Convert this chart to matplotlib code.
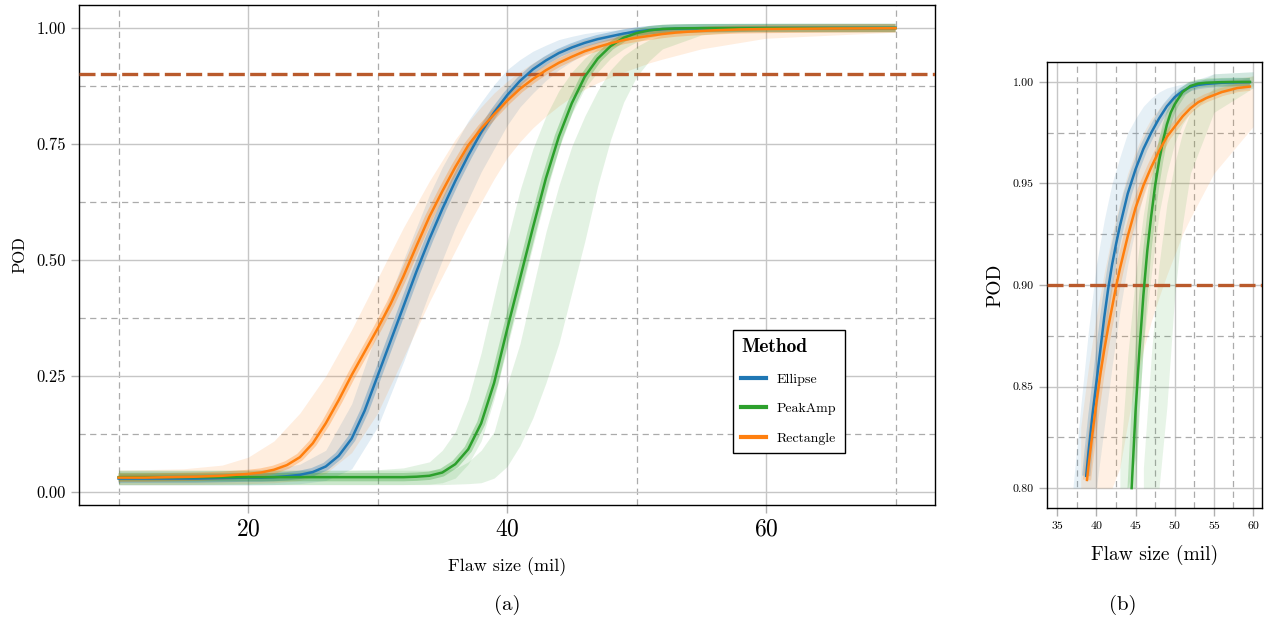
import matplotlib
matplotlib.use("Agg")
import matplotlib.pyplot as plt
from matplotlib.lines import Line2D
from matplotlib.ticker import MultipleLocator, FormatStrFormatter
import numpy as np

plt.rcParams['font.family'] = ['cmr10', 'DejaVu Serif']
plt.rcParams['axes.formatter.use_mathtext'] = True
plt.rcParams['mathtext.fontset'] = 'cm'

methods = ['Ellipse', 'PeakAmp', 'Rectangle']
colors = {'Ellipse': '#1f77b4', 'PeakAmp': '#2ca02c', 'Rectangle': '#ff7f0e'}
target_pod = 0.90

# ---- panel (a): fitted POD curves, flaw size 10..70 mil
flaw = [10, 12, 14, 16, 18, 20, 21, 22, 23, 24, 25, 26, 27, 28, 29, 30, 31, 32, 33, 34,
        35, 36, 37, 38, 39, 40, 41, 42, 43, 44, 45, 46, 47, 48, 49, 50, 51, 52, 53, 54,
        55, 56, 58, 60, 62, 65, 70]
pod_ellipse = [0.029, 0.029, 0.029, 0.029, 0.030, 0.031, 0.031, 0.032, 0.034, 0.037,
               0.043, 0.055, 0.078, 0.115, 0.175, 0.250, 0.325, 0.400, 0.475, 0.545,
               0.610, 0.670, 0.725, 0.775, 0.818, 0.855, 0.886, 0.911, 0.930, 0.946,
               0.958, 0.968, 0.976, 0.982, 0.988, 0.9925, 0.9955, 0.9975, 0.9985, 0.999,
               0.9994, 0.9996, 0.9998, 0.9999, 1.0, 1.0, 1.0]
pod_peakamp = [0.032, 0.032, 0.032, 0.032, 0.032, 0.032, 0.032, 0.032, 0.032, 0.032,
               0.032, 0.032, 0.032, 0.032, 0.032, 0.032, 0.032, 0.032, 0.033, 0.035,
               0.042, 0.060, 0.092, 0.148, 0.235, 0.350, 0.460, 0.570, 0.676, 0.766,
               0.838, 0.895, 0.934, 0.961, 0.979, 0.989, 0.995, 0.998, 0.999, 0.9995,
               0.9997, 0.9998, 0.9999, 1.0, 1.0, 1.0, 1.0]
pod_rectangle = [0.031, 0.031, 0.032, 0.033, 0.035, 0.039, 0.042, 0.048, 0.058, 0.075,
                 0.105, 0.148, 0.198, 0.252, 0.302, 0.352, 0.405, 0.465, 0.530, 0.593,
                 0.648, 0.700, 0.747, 0.783, 0.814, 0.843, 0.869, 0.890, 0.909, 0.925,
                 0.938, 0.950, 0.959, 0.967, 0.974, 0.979, 0.983, 0.987, 0.990, 0.992,
                 0.9935, 0.995, 0.997, 0.9978, 0.9983, 0.999, 0.9995]

# spread of the bootstrap curves: upper (left-most) and lower (right-most) edges
band_x = [10, 15, 18, 20, 22, 24, 26, 28, 30, 32, 34, 35, 36, 37, 38, 39, 40, 41, 42, 43,
          44, 45, 46, 47, 48, 49, 50, 51, 52, 55, 60, 70]
ell_hi = [0.045, 0.045, 0.046, 0.047, 0.050, 0.060, 0.090, 0.190, 0.350, 0.500, 0.640,
          0.700, 0.750, 0.800, 0.840, 0.878, 0.910, 0.932, 0.950, 0.963, 0.975, 0.982,
          0.988, 0.992, 0.995, 0.997, 0.998, 0.999, 1.000, 1.004, 1.005, 1.005]
ell_lo = [0.015, 0.015, 0.015, 0.015, 0.016, 0.018, 0.025, 0.050, 0.140, 0.280, 0.430,
          0.500, 0.570, 0.630, 0.690, 0.740, 0.790, 0.830, 0.860, 0.887, 0.910, 0.928,
          0.945, 0.957, 0.967, 0.975, 0.980, 0.985, 0.988, 0.994, 0.997, 0.998]
rect_hi = [0.047, 0.050, 0.058, 0.075, 0.110, 0.170, 0.250, 0.350, 0.460, 0.570, 0.670,
           0.715, 0.760, 0.797, 0.830, 0.860, 0.885, 0.906, 0.925, 0.941, 0.955, 0.966,
           0.975, 0.982, 0.987, 0.991, 0.994, 0.996, 0.997, 1.000, 1.003, 1.004]
rect_lo = [0.016, 0.016, 0.017, 0.018, 0.020, 0.025, 0.040, 0.085, 0.170, 0.290, 0.410,
           0.465, 0.520, 0.575, 0.625, 0.675, 0.720, 0.755, 0.785, 0.810, 0.832, 0.852,
           0.868, 0.882, 0.894, 0.905, 0.915, 0.925, 0.933, 0.955, 0.978, 0.991]
peak1_hi = [0.047, 0.047, 0.047, 0.047, 0.047, 0.047, 0.047, 0.047, 0.048, 0.052, 0.065,
            0.090, 0.130, 0.200, 0.300, 0.420, 0.540, 0.650, 0.740, 0.810, 0.865, 0.905,
            0.935, 0.957, 0.973, 0.983, 0.990, 0.995, 0.998, 1.004, 1.005, 1.005]
peak1_lo = [0.016, 0.016, 0.016, 0.016, 0.016, 0.016, 0.016, 0.016, 0.016, 0.016, 0.017,
            0.020, 0.030, 0.060, 0.110, 0.200, 0.310, 0.420, 0.530, 0.640, 0.740, 0.815,
            0.870, 0.905, 0.935, 0.955, 0.970, 0.979, 0.985, 0.995, 0.998, 0.998]
peak2_hi = [0.047, 0.047, 0.047, 0.047, 0.047, 0.047, 0.047, 0.047, 0.047, 0.047, 0.047,
            0.048, 0.050, 0.065, 0.090, 0.130, 0.230, 0.320, 0.440, 0.560, 0.660, 0.745,
            0.810, 0.865, 0.910, 0.940, 0.960, 0.975, 0.985, 0.997, 1.003, 1.004]
peak2_lo = [0.016, 0.016, 0.016, 0.016, 0.016, 0.016, 0.016, 0.016, 0.016, 0.016, 0.016,
            0.016, 0.017, 0.018, 0.020, 0.030, 0.055, 0.100, 0.160, 0.235, 0.320, 0.430,
            0.540, 0.660, 0.760, 0.840, 0.895, 0.930, 0.955, 0.985, 0.997, 0.998]

# ---- panel (b): close-up of POD >= 0.8
zx_ellipse = [38.7, 39, 39.5, 40, 40.5, 41, 41.5, 42, 42.5, 43, 44, 45, 46, 47, 48, 49, 50,
              51, 52, 53, 54, 56, 58, 59.6]
zp_ellipse = [0.806, 0.818, 0.836, 0.852, 0.868, 0.884, 0.898, 0.910, 0.920, 0.929, 0.945,
              0.957, 0.967, 0.975, 0.982, 0.988, 0.9925, 0.9955, 0.9975, 0.9985, 0.999,
              0.9996, 0.9998, 0.9999]
zx_peakamp = [44.5, 45, 45.5, 46, 46.5, 47, 47.5, 48, 48.5, 49, 49.5, 50, 51, 52, 53, 54,
              56, 58, 59.6]
zp_peakamp = [0.800, 0.838, 0.868, 0.895, 0.917, 0.934, 0.949, 0.961, 0.971, 0.979, 0.985,
              0.989, 0.995, 0.998, 0.9992, 0.9996, 0.9999, 1.0, 1.0]
zx_rectangle = [38.8, 39, 39.5, 40, 40.5, 41, 41.5, 42, 42.5, 43, 44, 45, 46, 47, 48, 49,
                50, 51, 52, 53, 54, 55, 56, 57, 58, 59.6]
zp_rectangle = [0.804, 0.811, 0.827, 0.842, 0.856, 0.868, 0.879, 0.889, 0.899, 0.908, 0.924,
                0.938, 0.949, 0.958, 0.966, 0.973, 0.978, 0.983, 0.987, 0.990, 0.992,
                0.9935, 0.995, 0.996, 0.997, 0.9977]

main_a = {'Ellipse': pod_ellipse, 'PeakAmp': pod_peakamp, 'Rectangle': pod_rectangle}
main_b = {'Ellipse': (zx_ellipse, zp_ellipse), 'PeakAmp': (zx_peakamp, zp_peakamp),
          'Rectangle': (zx_rectangle, zp_rectangle)}
bands = [('Ellipse', ell_lo, ell_hi), ('Rectangle', rect_lo, rect_hi),
         ('PeakAmp', peak1_lo, peak1_hi), ('PeakAmp', peak2_lo, peak2_hi)]


def style_axes(ax, xmaj, xmin, ymaj, ymin, xsize, ysize):
    ax.xaxis.set_major_locator(MultipleLocator(xmaj))
    ax.xaxis.set_minor_locator(MultipleLocator(xmin))
    ax.yaxis.set_major_locator(MultipleLocator(ymaj))
    ax.yaxis.set_minor_locator(MultipleLocator(ymin))
    ax.yaxis.set_major_formatter(FormatStrFormatter('%.2f'))
    ax.set_axisbelow(True)
    ax.grid(which='major', color='#c6c6c6', lw=1.0, ls='-')
    ax.grid(which='minor', color='#ababab', lw=0.9, ls=(0, (5, 3.5)))
    ax.tick_params(which='major', length=6, width=1, color='#b0b0b0')
    ax.tick_params(which='minor', length=0)
    ax.tick_params(axis='x', labelsize=xsize)
    ax.tick_params(axis='y', labelsize=ysize)
    for s in ax.spines.values():
        s.set_color('black')
        s.set_linewidth(1.0)


fig = plt.figure(figsize=(12.67, 6.22), dpi=100)

# (a)
ax1 = fig.add_axes([0.0624, 0.1881, 0.6756, 0.8039])
for m, lo, hi in bands:
    ax1.fill_between(band_x, lo, hi, color=colors[m], alpha=0.13, lw=0)
for m in methods:
    ax1.plot(flaw, main_a[m], color=colors[m], lw=6, alpha=0.3, solid_capstyle='butt')
ax1.axhline(target_pod, color='#b95a2c', lw=2.4, ls=(0, (4.8, 1.6)), zorder=5)
for m in methods:
    ax1.plot(flaw, main_a[m], color=colors[m], lw=1.8, zorder=6)
ax1.set_xlim(6.95, 73.05)
ax1.set_ylim(-0.028, 1.0496)
style_axes(ax1, 20, 10, 0.25, 0.125, 17, 12)
ax1.set_xlabel('Flaw size (mil)', fontsize=13, labelpad=12)
ax1.set_ylabel('POD', fontsize=12, labelpad=6)

handles = [Line2D([0], [0], color=colors[m], lw=3) for m in methods]
leg = ax1.legend(handles, methods, title='Method', loc='lower left',
                 bbox_to_anchor=(0.764, 0.104), borderaxespad=0, fontsize=10,
                 title_fontproperties={'family': 'cmb10', 'size': 14},
                 alignment='left', fancybox=False, edgecolor='black', framealpha=1,
                 handlelength=1.75, labelspacing=1.2, borderpad=0.6)
leg.get_frame().set_linewidth(1.0)
leg.set_zorder(10)

# (b)
ax2 = fig.add_axes([0.8264, 0.1833, 0.1697, 0.717])
bx = np.array(band_x)
for m, lo, hi in bands:
    lo = np.array(lo)
    hi = np.array(hi)
    keep = (hi >= 0.8) & (bx <= 60)
    ax2.fill_between(bx, np.maximum(lo, 0.8), hi, where=keep, color=colors[m],
                     alpha=0.11, lw=0)
for m in methods:
    zx, zp = main_b[m]
    ax2.plot(zx, zp, color=colors[m], lw=6, alpha=0.22, solid_capstyle='butt')
ax2.axhline(target_pod, color='#b95a2c', lw=2.4, ls=(0, (4.8, 1.6)), zorder=5)
for m in methods:
    zx, zp = main_b[m]
    ax2.plot(zx, zp, color=colors[m], lw=1.8, zorder=6)
ax2.set_xlim(33.7, 61.15)
ax2.set_ylim(0.7902, 1.0098)
style_axes(ax2, 5, 2.5, 0.05, 0.025, 8.5, 8.5)
ax2.xaxis.set_major_formatter(FormatStrFormatter('%d'))
ax2.set_xlabel('Flaw size (mil)', fontsize=14, labelpad=10)
ax2.set_ylabel('POD', fontsize=14, labelpad=6)

fig.text(0.400, 0.027, '(a)', fontsize=15, ha='center', va='center')
fig.text(0.886, 0.027, '(b)', fontsize=15, ha='center', va='center')

fig.savefig('out.png', dpi=100)
